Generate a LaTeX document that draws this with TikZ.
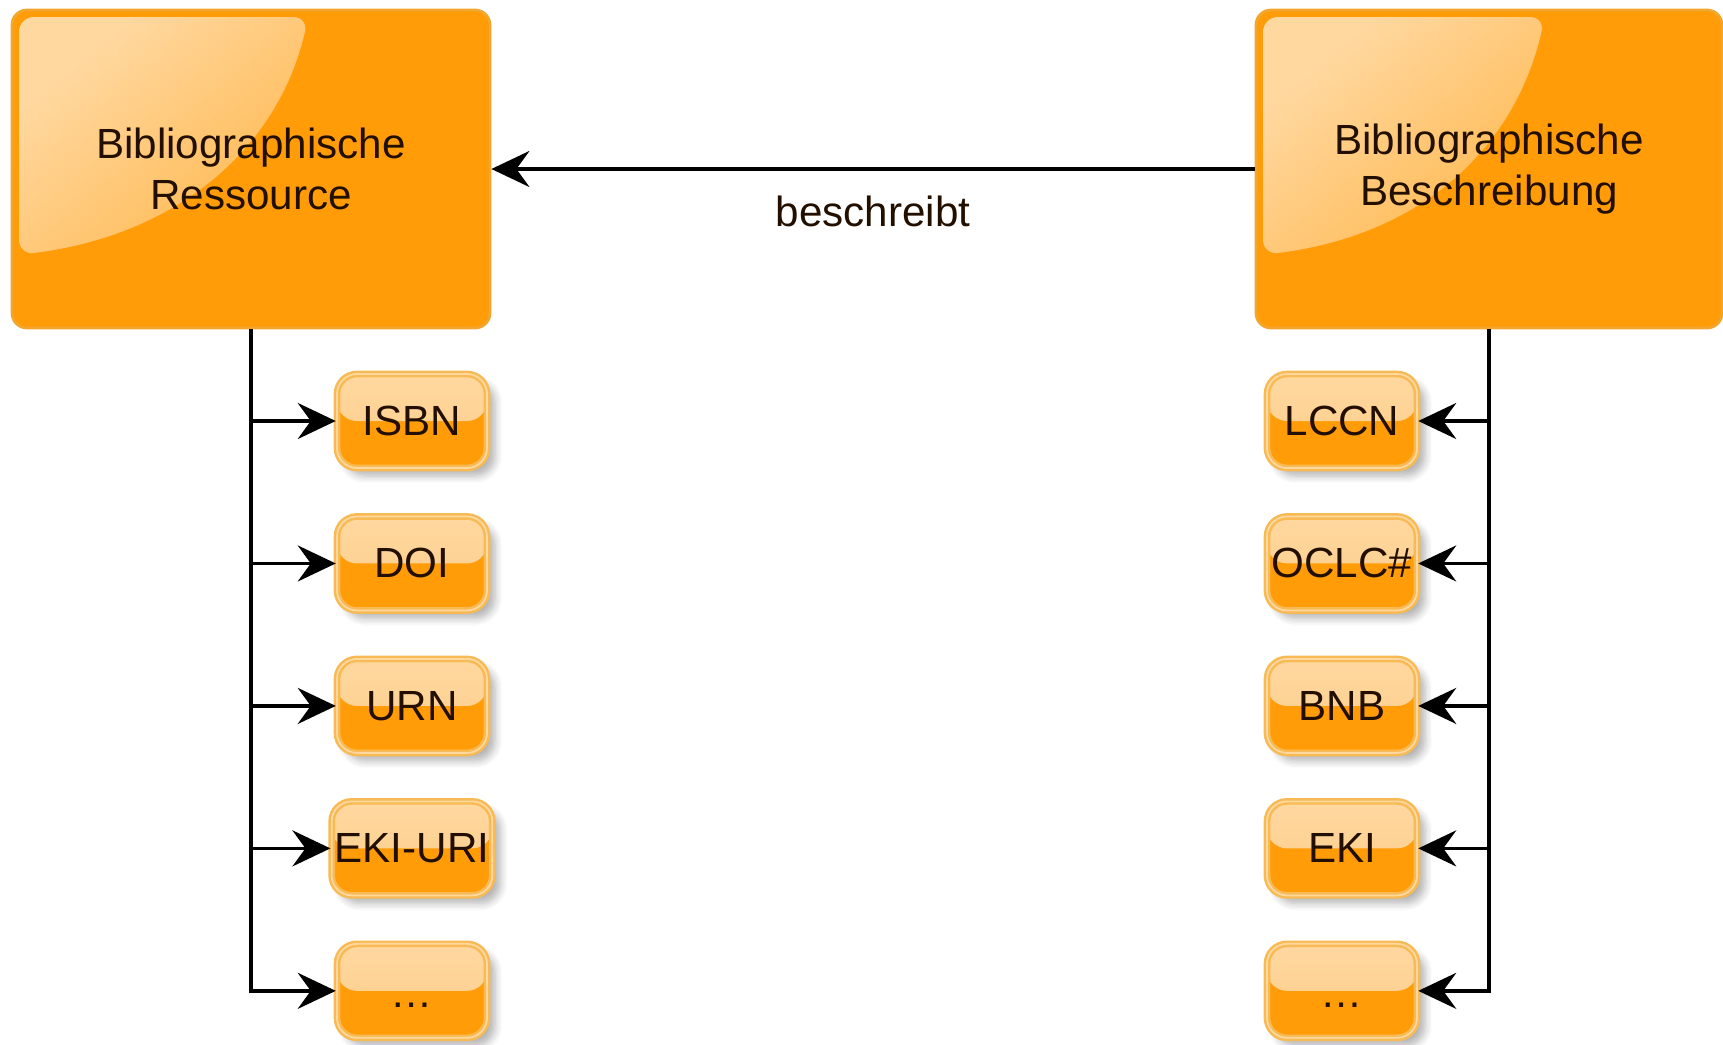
\documentclass[tikz,border=0pt]{standalone}
\usepackage{fontspec}
\setmainfont{Liberation Sans}
\usepackage{tikz}
\usetikzlibrary{arrows.meta,positioning,calc,shadows.blur}
\definecolor{tangerine}{RGB}{255,156,8}
\definecolor{rim}{RGB}{243,166,45}
\definecolor{gloss}{RGB}{255,216,160}
\definecolor{peach}{RGB}{253,204,136}
\definecolor{chipedge}{RGB}{247,186,84}
\definecolor{ink}{RGB}{35,15,0}
\tikzset{
  bigbox/.style = {rounded corners=1.5mm, draw=rim, line width=0.8pt, fill=tangerine,
                   text=ink, align=center, minimum height=31.8mm,
                   font=\fontsize{12}{14.4}\selectfont,
                   path picture={
                     \shade[top color=gloss, bottom color=tangerine!85!gloss, shading angle=40]
                       ([shift={(0.7mm,-0.7mm)}]path picture bounding box.north west)
                       -- ($(path picture bounding box.north west)!0.62!(path picture bounding box.north east)+(0,-0.7mm)$)
                       .. controls +(-3mm,-13mm) and +(16mm,2mm) ..
                          ($(path picture bounding box.north west)!0.77!(path picture bounding box.south west)+(0.7mm,0)$)
                       -- cycle;}},
  chip/.style   = {rounded corners=2mm, draw=chipedge, line width=0.7pt,
                   double=gloss, double distance=0.5pt, fill=tangerine, text=ink,
                   minimum width=15mm, minimum height=9.4mm, inner xsep=0.3mm,
                   font=\fontsize{12}{14.4}\selectfont,
                   blur shadow={shadow xshift=0.8mm, shadow yshift=-0.8mm,
                                shadow opacity=30, shadow blur steps=6},
                   path picture={
                     \shade[top color=gloss, bottom color=peach]
                       (path picture bounding box.north west) rectangle (path picture bounding box.east);}},
  dots/.style   = {text height=3.4mm, text depth=0mm},
  flow/.style   = {-{Stealth[length=3.8mm, width=3.6mm, inset=1.3mm]}, draw=black, line width=1pt},
  lbl/.style    = {text=ink, inner sep=0pt, font=\fontsize{12}{14.4}\selectfont},
}

\begin{document}
\begin{tikzpicture}
\useasboundingbox (0,0) rectangle (172.3mm,-104.5mm);

% the two main boxes
\node[bigbox, minimum width=47.8mm] (res) at (25.1mm,-16.9mm) {Bibliographische\\Ressource};
\node[bigbox, minimum width=46.6mm] (desc) at (148.9mm,-16.9mm) {Bibliographische\\Beschreibung};

\draw[flow] (desc) -- node[lbl, below=2.5mm] {beschreibt} (res);

% identifiers of the resource
\node[chip] (isbn) at (41.2mm,-42.1mm) {ISBN};
\node[chip, below=4.6mm of isbn] (doi) {DOI};
\node[chip, below=4.6mm of doi] (urn) {URN};
\node[chip, below=4.6mm of urn] (ekiuri) {EKI-URI};
\node[chip, dots, below=4.6mm of ekiuri] (moreres) {\dots};

% identifiers of the description
\node[chip] (lccn) at (134.2mm,-42.1mm) {LCCN};
\node[chip, below=4.6mm of lccn] (oclc) {OCLC\#};
\node[chip, below=4.6mm of oclc] (bnb) {BNB};
\node[chip, below=4.6mm of bnb] (eki) {EKI};
\node[chip, dots, below=4.6mm of eki] (moredesc) {\dots};

\draw[flow] (res.south) |- (isbn.west);
\draw[flow] (res.south) |- (doi.west);
\draw[flow] (res.south) |- (urn.west);
\draw[flow] (res.south) |- (ekiuri.west);
\draw[flow] (res.south) |- (moreres.west);

\draw[flow] (desc.south) |- (lccn.east);
\draw[flow] (desc.south) |- (oclc.east);
\draw[flow] (desc.south) |- (bnb.east);
\draw[flow] (desc.south) |- (eki.east);
\draw[flow] (desc.south) |- (moredesc.east);
\end{tikzpicture}
\end{document}
